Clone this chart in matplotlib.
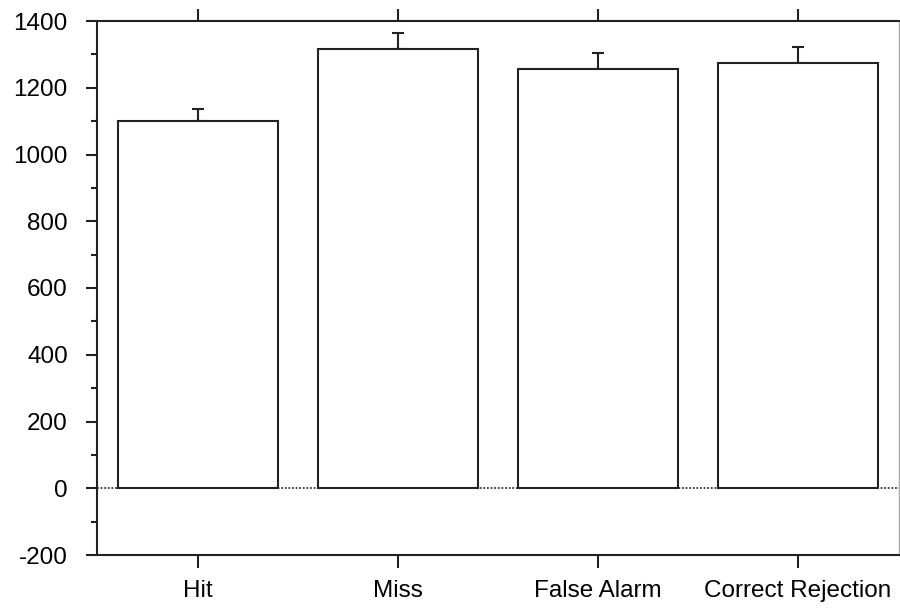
import numpy as np
import matplotlib
matplotlib.use("Agg")
import matplotlib.pyplot as plt
from matplotlib.ticker import MultipleLocator

categories = ["Hit", "Miss", "False Alarm", "Correct Rejection"]
means = [1100, 1316, 1256, 1275]
errors = [36, 48, 48, 47]

plt.rcParams['font.family'] = ['Liberation Sans', 'DejaVu Sans']
plt.rcParams['axes.unicode_minus'] = False

fig = plt.figure(figsize=(9, 6.08), dpi=100)
ax = fig.add_axes([97 / 900, 53 / 608, 802 / 900, 534 / 608])

x = np.arange(len(categories))
ax.bar(x, means, width=0.8, color="white", edgecolor="#222222", linewidth=1.5, zorder=2)
half = [e / 2 for e in errors]
ax.errorbar(x, [m + h for m, h in zip(means, half)], yerr=[half, half],
            fmt="none", ecolor="#222222", elinewidth=1.5, capsize=4.5, capthick=1.5, zorder=1)
ax.axhline(0, color="#333333", linestyle=(0, (1, 1)), linewidth=1.3, zorder=1)

ax.set_xlim(-0.505, 3.505)
ax.set_ylim(-200, 1400)
ax.set_xticks(x)
ax.set_xticklabels(categories)
ax.yaxis.set_major_locator(MultipleLocator(200))
ax.yaxis.set_minor_locator(MultipleLocator(100))

for side in ["left", "bottom", "top"]:
    ax.spines[side].set_color("#222222")
    ax.spines[side].set_linewidth(1.5)
ax.spines["right"].set_color("#aaaaaa")
ax.spines["right"].set_linewidth(1.0)

ax.tick_params(axis="x", which="major", direction="out", length=9, width=1.5, color="#222222",
               top=True, labeltop=False, labelsize=17.5, pad=9)
ax.tick_params(axis="y", which="major", direction="out", length=8, width=1.5, color="#222222",
               labelsize=17.5, pad=13)
ax.tick_params(axis="y", which="minor", direction="out", length=4, width=1.5, color="#222222")

fig.savefig("out.png", dpi=100)
